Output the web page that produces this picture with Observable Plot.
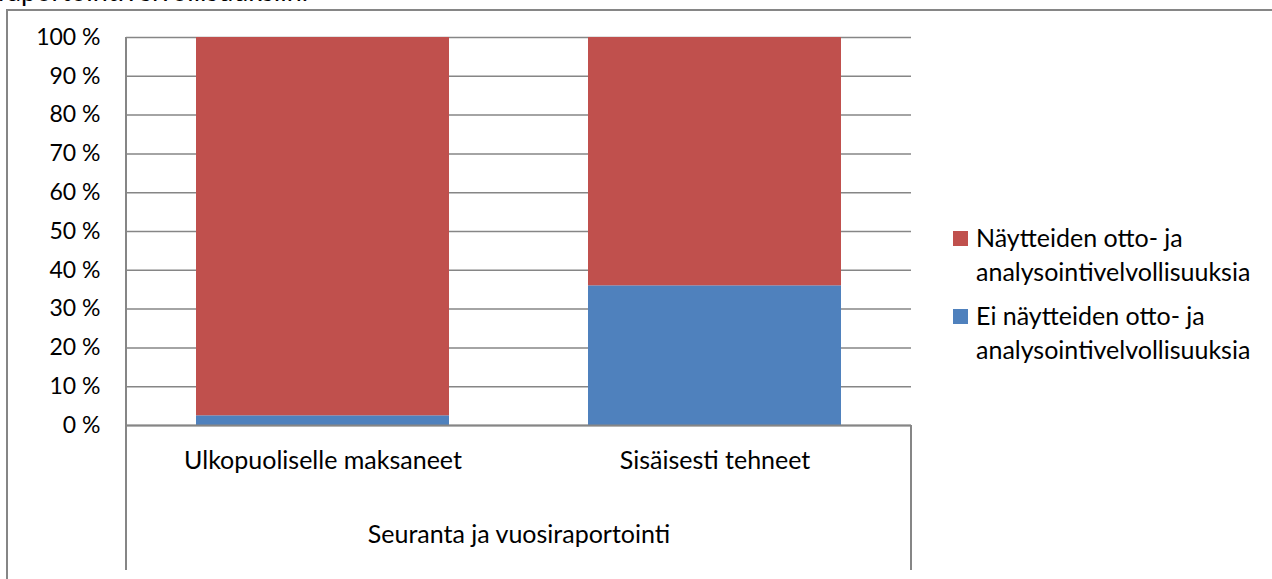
<!DOCTYPE html>
<html>
<head>
<meta charset="utf-8">
<script src="https://cdn.jsdelivr.net/npm/d3@7"></script>
<script src="https://cdn.jsdelivr.net/npm/@observablehq/plot@0.6"></script>
<style>
  html, body { margin: 0; padding: 0; background: #fff; overflow: hidden; width: 1272px; height: 579px; }
  body { position: relative; font-family: Lato, "Open Sans", sans-serif; color: #000; }
  #clipped { position: absolute; left: -2px; top: -26px; font-size: 27px; white-space: nowrap; }
  #frame { position: absolute; left: 6px; top: 9px; width: 1300px; height: 700px; border-left: 2px solid #868686; border-top: 2px solid #868686; background: #fff; }
  #chart { position: absolute; left: 0; top: 0; }
  #legend { position: absolute; left: 953px; top: 220px; font-size: 25px; line-height: 34px; }
  .item { display: flex; align-items: flex-start; margin-bottom: 10px; }
  .sw { width: 15px; height: 15px; margin-top: 11px; margin-right: 8px; flex: none; }
</style>
</head>
<body>
<div id="clipped">raportointivelvollisuuksiin.</div>
<div id="frame"></div>
<div id="chart"></div>
<div id="legend"></div>
<script>
const categories = ["Ulkopuoliselle maksaneet", "Sisäisesti tehneet"];
const groupLabel = "Seuranta ja vuosiraportointi";
const seriesNames = ["Ei näytteiden otto- ja analysointivelvollisuuksia", "Näytteiden otto- ja analysointivelvollisuuksia"];
const seriesColors = ["#4F81BD", "#C0504D"];
const blueValues = [2.5, 36];
const redValues = [97.5, 64];
const yTicks = [0, 10, 20, 30, 40, 50, 60, 70, 80, 90, 100];

const data = [];
categories.forEach((c, i) => {
  data.push({category: c, series: seriesNames[0], value: blueValues[i]});
  data.push({category: c, series: seriesNames[1], value: redValues[i]});
});

const grid = "#868686";
const plot = Plot.plot({
  width: 1272,
  height: 579,
  marginTop: 37,
  marginBottom: 154,
  marginLeft: 126,
  marginRight: 361,
  style: {fontFamily: "Lato, 'Open Sans', sans-serif", fontSize: "25px", color: "#000", background: "transparent", overflow: "visible"},
  x: {domain: categories, paddingInner: 0.355, paddingOuter: 0.1775, axis: null, label: null},
  y: {domain: [0, 100], ticks: yTicks, axis: null, label: null},
  color: {domain: seriesNames, range: seriesColors},
  marks: [
    Plot.gridY(yTicks, {stroke: grid, strokeOpacity: 1, strokeWidth: 1.5}),
    Plot.barY(data, {x: "category", y: "value", fill: "series", order: seriesNames}),
    Plot.ruleY([0], {stroke: grid, strokeWidth: 2}),
    Plot.axisY(yTicks, {tickSize: 0, tickPadding: 26, tickFormat: d => d + " %", fontSize: 23, label: null}),
    Plot.text(categories, {x: d => d, frameAnchor: "bottom", dy: 43, fontSize: 25}),
    Plot.text([groupLabel], {frameAnchor: "bottom", dy: 117, fontSize: 25})
  ]
});
document.getElementById("chart").appendChild(plot);

// vertical boundary lines of the category axis, from the library's scales
const xs = plot.scale("x").range;
const ys = plot.scale("y").range;
const svg = d3.select(plot);
svg.append("line").attr("x1", xs[0]).attr("x2", xs[0]).attr("y1", ys[1]).attr("y2", ys[0] + 145)
  .attr("stroke", grid).attr("stroke-width", 2);
svg.append("line").attr("x1", xs[1]).attr("x2", xs[1]).attr("y1", ys[0]).attr("y2", ys[0] + 145)
  .attr("stroke", grid).attr("stroke-width", 2);

// legend
const legend = d3.select("#legend");
[1, 0].forEach(i => {
  const item = legend.append("div").attr("class", "item");
  item.append("div").attr("class", "sw").style("background", seriesColors[i]);
  const words = seriesNames[i].split(" ");
  const last = words.pop();
  item.append("div").html(words.join(" ") + "<br>" + last);
});
</script>
</body>
</html>
